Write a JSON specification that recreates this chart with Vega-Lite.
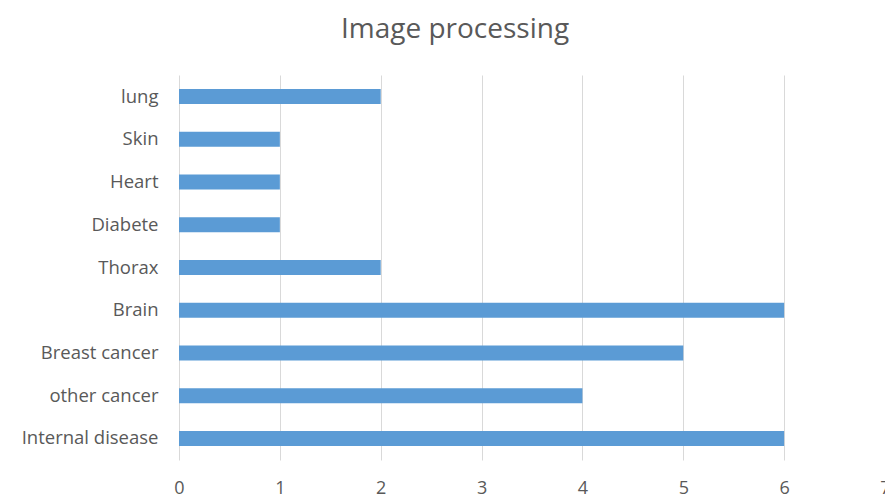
{
  "$schema": "https://vega.github.io/schema/vega-lite/v6.json",
  "width": 706,
  "height": 385,
  "autosize": {"type": "none"},
  "padding": {"left": 179, "top": 75, "right": 0, "bottom": 37},
  "background": "white",
  "title": {
    "text": "Image processing",
    "font": "Open Sans",
    "fontSize": 28,
    "fontWeight": "normal",
    "color": "#595959",
    "anchor": "middle",
    "dx": -77,
    "offset": 31
  },
  "data": {
    "values": [
      {"category": "lung", "value": 2},
      {"category": "Skin", "value": 1},
      {"category": "Heart", "value": 1},
      {"category": "Diabete", "value": 1},
      {"category": "Thorax", "value": 2},
      {"category": "Brain", "value": 6},
      {"category": "Breast cancer", "value": 5},
      {"category": "other cancer", "value": 4},
      {"category": "Internal disease", "value": 6}
    ]
  },
  "mark": {"type": "bar", "color": "#5b9bd5"},
  "encoding": {
    "y": {
      "field": "category",
      "type": "nominal",
      "sort": null,
      "scale": {"paddingInner": 0.65, "paddingOuter": 0.33},
      "axis": {
        "title": null,
        "domain": false,
        "ticks": false,
        "labelFont": "Open Sans",
        "labelFontSize": 18.5,
        "labelColor": "#595959",
        "labelPadding": 21
      }
    },
    "x": {
      "field": "value",
      "type": "quantitative",
      "scale": {"domain": [0, 7], "nice": false},
      "axis": {
        "title": null,
        "values": [0, 1, 2, 3, 4, 5, 6, 7],
        "domain": false,
        "ticks": false,
        "grid": true,
        "gridColor": "#d9d9d9",
        "gridWidth": 1,
        "labelFont": "Open Sans",
        "labelFontSize": 18,
        "labelColor": "#595959",
        "labelPadding": 19,
        "labelFlush": false
      }
    }
  },
  "config": {"view": {"stroke": null}}
}
